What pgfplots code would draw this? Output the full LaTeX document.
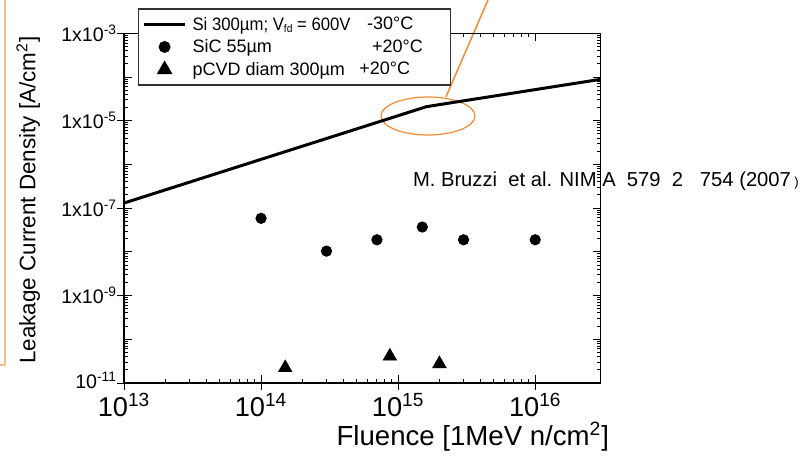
\documentclass[border=0pt]{standalone}
\usepackage{graphicx}
\usepackage{pgfplots}
\pgfplotsset{compat=1.18}
\usepackage{fontspec}
\setmainfont{Liberation Sans}
\definecolor{orng}{RGB}{240,140,50}
\definecolor{peach}{RGB}{250,190,140}
\newcommand{\entryA}{\hbox to 127pt{\resizebox{79pt}{\height}{Si 300µm; V\raisebox{-1.2pt}{\fontsize{5.5}{6}\selectfont fd} = 600V}\hss}}
\newcommand{\entryB}{\hbox to 127pt{SiC 55µm\hss}}
\newcommand{\entryC}{\hbox to 127pt{pCVD diam 300µm\hss}}
\begin{document}
\begin{tikzpicture}
\useasboundingbox (0,0) rectangle (402.5pt,228pt);
\draw[orng, line width=0.6pt] (214pt,170pt) ellipse (23.5pt and 9.5pt);
\draw[orng, line width=0.75pt] (223pt,179.6pt) -- (244pt,228pt);
\draw[peach, line width=1pt] (2.5pt,228pt) -- (2.5pt,45.5pt) -- (0pt,45.5pt);
\begin{axis}[
 at={(62pt,36.5pt)}, anchor=south west,
 scale only axis, width=238.3pt, height=174.85pt,
 xmode=log, ymode=log,
 xmin=1e13, xmax=3e16, ymin=1e-11, ymax=1e-3,
 xtick={1e13,1e14,1e15,1e16},
 xticklabels={10\textsuperscript{13},10\textsuperscript{14},10\textsuperscript{15},10\textsuperscript{16}},
 ytick={1e-11,1e-10,1e-9,1e-8,1e-7,1e-6,1e-5,1e-4,1e-3},
 yticklabels={\raisebox{3pt}{10\textsuperscript{-11}},,1x10\textsuperscript{-9},,1x10\textsuperscript{-7},,1x10\textsuperscript{-5},,1x10\textsuperscript{-3}},
 x tick label style={font=\fontsize{13.6}{15}\selectfont, yshift=-1.5pt},
 y tick label style={font=\fontsize{9.8}{11}\selectfont},
 tick align=inside,
 major tick length=4pt, minor tick length=2pt,
 extra x ticks={1e13,1e14,1e15,1e16}, extra x tick labels={},
 extra x tick style={tick align=outside, xtick pos=bottom, major tick length=3.5pt},
 extra y ticks={1e-11,1e-9,1e-7,1e-5,1e-3}, extra y tick labels={},
 extra y tick style={tick align=outside, ytick pos=left, major tick length=3.5pt},
 axis line style={line width=0.75pt},
 every tick/.style={black, line width=0.5pt},
 xlabel={Fluence [1MeV n/cm\textsuperscript{2}]},
 ylabel={Leakage Current Density [A/cm\textsuperscript{2}]},
 xlabel style={font=\fontsize{13.8}{15}\selectfont, at={(axis description cs:0.732,-0.154)}, anchor=center},
 ylabel style={font=\fontsize{11.2}{13}\selectfont, at={(axis description cs:-0.201,0.523)}, anchor=center},
 legend image code/.code={\draw[mark repeat=2,mark phase=2,#1] plot coordinates {(0pt,0pt) (10.25pt,0pt) (20.5pt,0pt)};},
 legend cell align=left,
 legend style={at={(axis description cs:0.029,1.0712)}, anchor=north west,
   draw=black!80, line width=0.75pt, fill=white,
   font=\fontsize{9}{10}\selectfont, inner xsep=2pt, inner ysep=3.6pt,
   row sep=3.3pt, column sep=3pt,
   nodes={inner sep=0pt, text height=7pt, text depth=1pt}},
]
\addplot[black, line width=1.5pt, no marks] coordinates {(1e13,1.31e-7) (1.61e15,2.1e-5) (3e16,8.85e-5)};
\addlegendentry{\entryA}
\addplot[only marks, mark=*, mark size=2.6pt, black] coordinates {(1e14,5.85e-8) (3e14,1.04e-8) (7e14,1.89e-8) (1.5e15,3.7e-8) (3e15,1.89e-8) (1e16,1.89e-8)};
\addlegendentry{\entryB}
\addplot[only marks, mark=triangle*, mark size=3.8pt, black] coordinates {(1.5e14,2.23e-11) (8.7e14,4.1e-11) (2e15,2.75e-11)};
\addlegendentry{\entryC}
\end{axis}
\begin{scope}[every node/.style={anchor=base west, font=\fontsize{9}{10}\selectfont, inner sep=0pt}]
\node at (183.35pt,213.2pt) {-30°C};
\node at (185.85pt,201.9pt) {+20°C};
\node at (179.5pt,190.6pt) {+20°C};
\end{scope}
\node[anchor=base west, font=\fontsize{10.1}{12}\selectfont, inner sep=0pt] at (206.3pt,134.65pt) {M. Bruzzi\ \ et al. NIM A\ \ 579\ \ 2\ \ \ 754 (2007\,{\fontsize{6.5}{7}\selectfont )}};
\end{tikzpicture}
\end{document}
